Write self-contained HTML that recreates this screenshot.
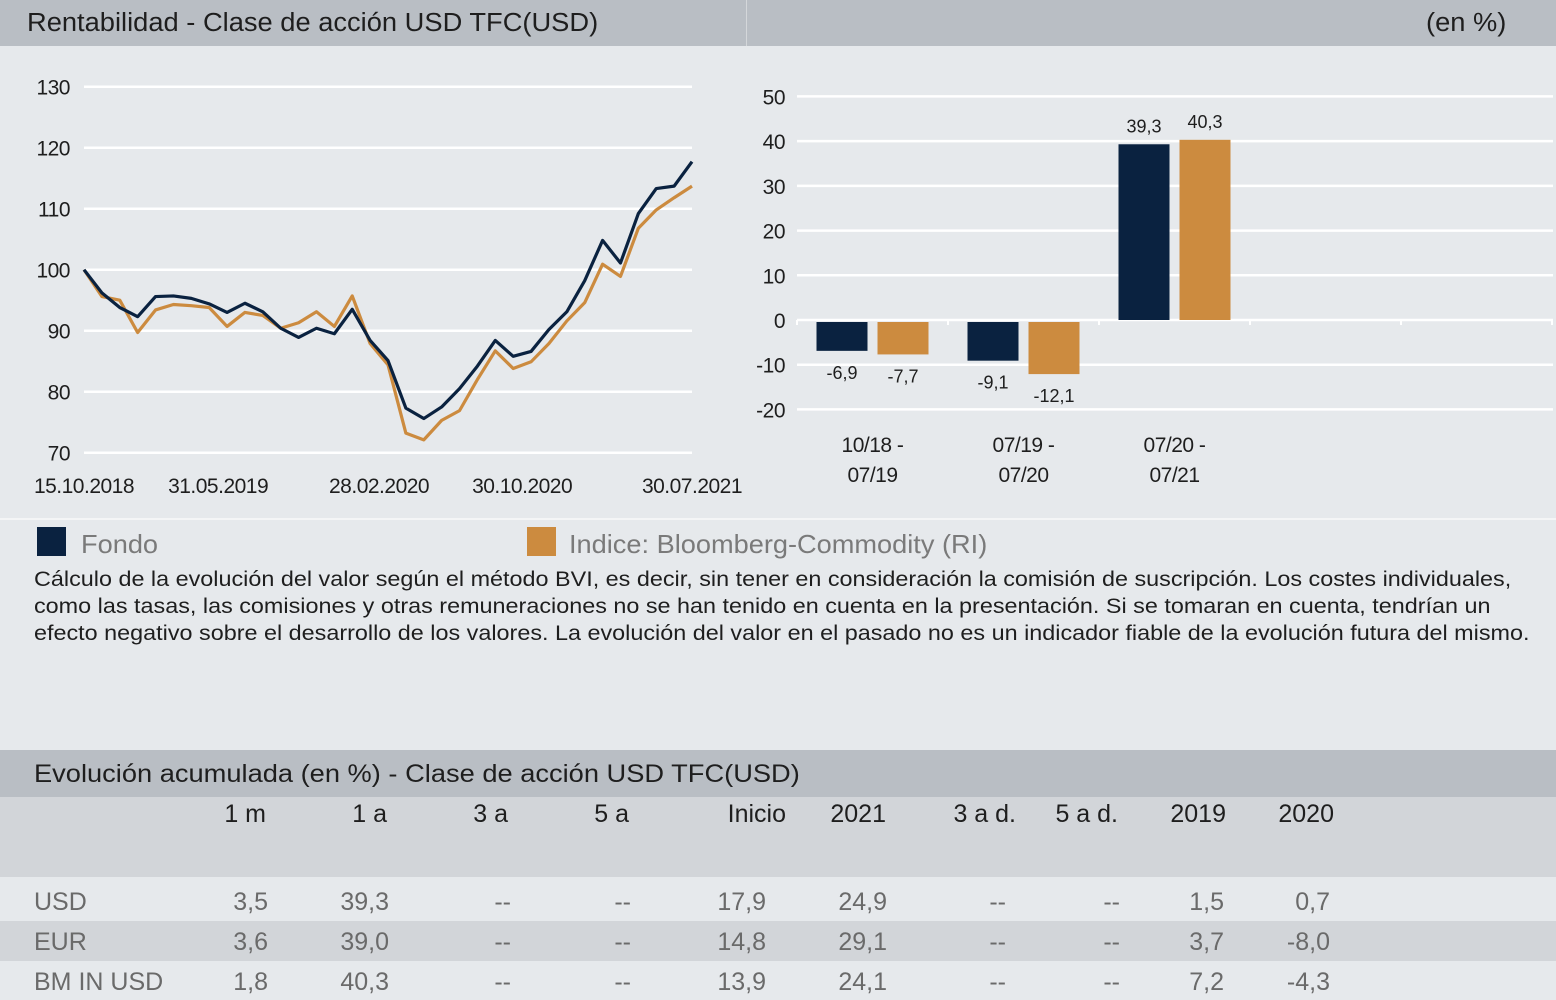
<!DOCTYPE html>
<html><head><meta charset="utf-8">
<style>
body{margin:0;width:1556px;height:1000px;background:#e6e9ec;font-family:"Liberation Sans",Arial,sans-serif;position:relative;overflow:hidden}
.a{position:absolute;white-space:nowrap}
.th{font-size:25px;color:#1e1e1e}
.td{font-size:25px;color:#6a6a6a}
.sx{transform-origin:0 50%}
</style></head><body>
<div class="a" style="left:0;top:0;width:1556px;height:46px;background:#b9bec4"></div>
<div class="a" style="left:746px;top:0;width:1px;height:46px;background:#d4d7da"></div>
<div class="a sx" style="left:27px;top:9px;font-size:25.5px;color:#1e1e1e;transform:scaleX(1.07)">Rentabilidad - Clase de acción USD TFC(USD)</div>
<div class="a sx" style="left:1426px;top:9px;font-size:25.5px;color:#1e1e1e;transform:scaleX(1.07)">(en %)</div>

<svg class="a" style="left:0;top:46px" width="1556" height="474">
<g id="line" transform="translate(0,-46)"></g>
<g id="bars" transform="translate(0,-46)"></g>
</svg>
<div class="a" style="left:0;top:518px;width:1556px;height:2px;background:#f4f5f6"></div>

<div class="a" style="left:37px;top:527px;width:29px;height:29px;background:#0a2240"></div>
<div class="a sx" style="left:81px;top:529px;font-size:26px;color:#7a7a7a;transform:scaleX(1.045)">Fondo</div>
<div class="a" style="left:527px;top:527px;width:29px;height:29px;background:#cc8b3f"></div>
<div class="a sx" style="left:569px;top:529px;font-size:26px;color:#7a7a7a;transform:scaleX(1.045)">Indice: Bloomberg-Commodity (RI)</div>

<div class="a sx" style="left:34px;top:566px;font-size:21px;line-height:27px;color:#1e1e1e;transform:scaleX(1.113)">Cálculo de la evolución del valor según el método BVI, es decir, sin tener en consideración la comisión de suscripción. Los costes individuales,<br>como las tasas, las comisiones y otras remuneraciones no se han tenido en cuenta en la presentación. Si se tomaran en cuenta, tendrían un<br>efecto negativo sobre el desarrollo de los valores. La evolución del valor en el pasado no es un indicador fiable de la evolución futura del mismo.</div>

<div class="a" style="left:0;top:750px;width:1556px;height:47px;background:#b9bec4"></div>
<div class="a sx" style="left:34px;top:760px;font-size:25px;color:#1e1e1e;transform:scaleX(1.09)">Evolución acumulada (en %) - Clase de acción USD TFC(USD)</div>
<div class="a" style="left:0;top:797px;width:1556px;height:80px;background:#d2d5d9"></div>
<div class="a" style="left:0;top:921px;width:1556px;height:40px;background:#d2d5d9"></div>
<div id="table"></div>

<script>
// ----- line chart data -----
const lineTicks=[70,80,90,100,110,120,130];
const dateLabels=["15.10.2018","31.05.2019","28.02.2020","30.10.2020","30.07.2021"];
const dateLabelIdx=[0,7.5,16.5,24.5,34];
const fondo=[100,96.2,93.8,92.3,95.6,95.7,95.3,94.4,93.0,94.5,93.1,90.4,88.9,90.4,89.5,93.5,88.4,85.1,77.3,75.6,77.5,80.5,84.2,88.4,85.8,86.6,90.2,93.1,98.2,104.8,101.1,109.2,113.3,113.7,117.7];
const indice=[100,95.6,95.0,89.7,93.4,94.3,94.1,93.8,90.7,93.0,92.5,90.4,91.3,93.1,90.7,95.7,87.9,84.4,73.2,72.1,75.3,76.9,82.0,86.7,83.8,84.9,87.9,91.6,94.6,100.9,98.9,106.8,109.8,111.8,113.7];
// ----- bar chart data -----
const barCats=[["10/18 -","07/19"],["07/19 -","07/20"],["07/20 -","07/21"]];
const barFondo=[-6.9,-9.1,39.3];
const barIndice=[-7.7,-12.1,40.3];
const barTicks=[-20,-10,0,10,20,30,40,50];
// ----- table data -----
const colHeads=["1 m","1 a","3 a","5 a","Inicio","2021","3 a d.","5 a d.","2019","2020"];
const rowNames=["USD","EUR","BM IN USD"];
const tableVals=[["3,5","39,3","--","--","17,9","24,9","--","--","1,5","0,7"],["3,6","39,0","--","--","14,8","29,1","--","--","3,7","-8,0"],["1,8","40,3","--","--","13,9","24,1","--","--","7,2","-4,3"]];

const NS="http://www.w3.org/2000/svg";
function mk(tag,attrs,parent){const e=document.createElementNS(NS,tag);for(const k in attrs)e.setAttribute(k,attrs[k]);parent.appendChild(e);return e;}
// line chart
const L=document.getElementById('line');
const lx=i=>84+i*(692-84)/(fondo.length-1);
const ly=v=>452.7-(v-70)*(452.7-86.7)/60;
lineTicks.forEach(t=>{
 const g=mk('line',{x1:84,x2:692,y1:ly(t),y2:ly(t),stroke:'#fff','stroke-width':2.5},L);
 
 
 const tx=mk('text',{x:70,y:ly(t)+8,'text-anchor':'end','font-size':21,fill:'#1e1e1e','letter-spacing':'-0.5'},L);
 tx.textContent=t;
 
 
});
dateLabels.forEach((d,i)=>{
 const tx=mk('text',{x:i==4?692:lx(dateLabelIdx[i]),y:493,'text-anchor':'middle','font-size':21,fill:'#1e1e1e','letter-spacing':'-0.5'},L);
 tx.textContent=d;
 
 
});
[[indice,'#cc8b3f','indice-line'],[fondo,'#0a2240','fondo-line']].forEach(([s,c,n])=>{
 const p=mk('polyline',{points:s.map((v,i)=>lx(i)+','+ly(v)).join(' '),fill:'none',stroke:c,'stroke-width':3.2,'stroke-linejoin':'round'},L);
 
 
});
// bar chart
const B=document.getElementById('bars');
const by=v=>320-v*(410.7-97.7)/70;
const cw=151,bx0=797;
barTicks.forEach(t=>{
 const g=mk('line',{x1:797,x2:1553,y1:by(t),y2:by(t),stroke:'#fff','stroke-width':2.5},B);
 
 
 const tx=mk('text',{x:785,y:by(t)+8,'text-anchor':'end','font-size':21,fill:'#1e1e1e','letter-spacing':'-0.5'},B);
 tx.textContent=t;
 
 
});
for(let i=0;i<=5;i++){const tk=mk('line',{x1:bx0+i*cw,x2:bx0+i*cw,y1:320,y2:325,stroke:'#fff','stroke-width':2},B);
 
 }
barCats.forEach((c,i)=>{
 const cx=bx0+cw*(i+0.5);
 [[barFondo[i],'#0a2240',-56],[barIndice[i],'#cc8b3f',5]].forEach(([v,col,off],j)=>{
  const y0=by(Math.max(v,0)),h=Math.abs(by(v)-by(0));
  const r=mk('rect',{x:cx+off,y:v>=0?y0:by(0)+2,width:51,height:v>=0?h:h-2,fill:col},B);
  
  
  const tx=mk('text',{x:cx+off+25.5,y:v>=0?by(v)-12:by(v)+28,'text-anchor':'middle','font-size':18,fill:'#1e1e1e'},B);
  tx.textContent=String(v).replace('.',',');
  
  
 });
 c.forEach((s,k)=>{
  const tx=mk('text',{x:cx,y:452+k*30,'text-anchor':'middle','font-size':21,fill:'#1e1e1e','letter-spacing':'-0.5'},B);
  tx.textContent=s;
  
  
 });
});
// table
const T=document.getElementById('table');
const colRight=[266,387,508,629,786,886,1016,1118,1226,1334];
colHeads.forEach((h,i)=>{
 const d=document.createElement('div');d.className='a th';d.textContent=h;
 d.style.right=(1556-colRight[i])+'px';d.style.top='800px';
 
 
 T.appendChild(d);
});
const valRight=[268,389,511,631,766,887,1006,1120,1224,1330];
rowNames.forEach((n,r)=>{
 const top=888+r*40;
 const d=document.createElement('div');d.className='a td';d.textContent=n;d.style.left='34px';d.style.top=top+'px';
 
 
 T.appendChild(d);
 tableVals[r].forEach((v,i)=>{
  const c=document.createElement('div');c.className='a td';c.textContent=v;
  c.style.right=(1556-valRight[i])+'px';c.style.top=top+'px';
  
  
  T.appendChild(c);
 });
});
</script>
</body></html>
